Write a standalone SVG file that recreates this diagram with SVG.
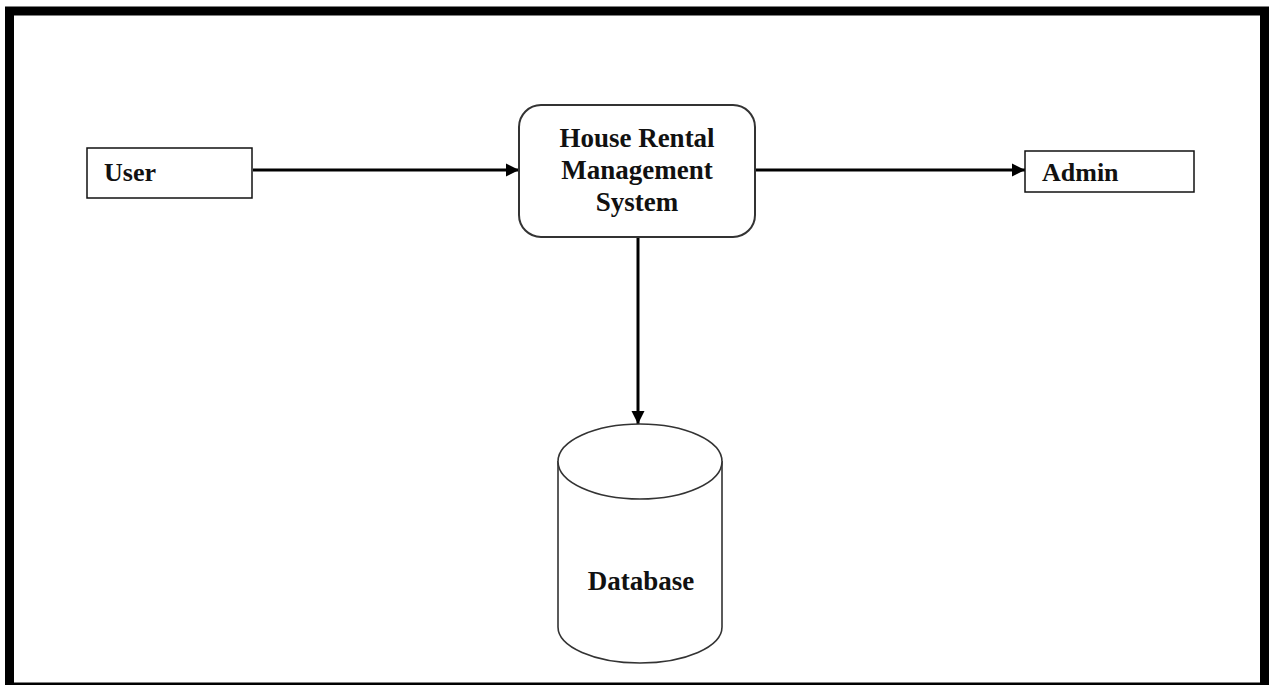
<svg xmlns="http://www.w3.org/2000/svg" width="1269" height="685" viewBox="0 0 1269 685">
<defs>
<style>
.t{font-family:"Liberation Serif","Times New Roman",serif;font-weight:bold;font-size:27px;fill:#111;}
.s{font-size:26px;}
.box{fill:#fff;stroke:#111;stroke-width:1.5;}
.conn{stroke:#000;stroke-width:3;fill:none;}
</style>
<marker id="ah" viewBox="0 0 10 10" refX="10" refY="5" markerWidth="4.5" markerHeight="4.5" orient="auto" markerUnits="strokeWidth">
<path d="M0,0 L10,5 L0,10 z" fill="#000"/>
</marker>
</defs>
<rect x="0" y="0" width="1269" height="685" fill="#fff"/>
<rect id="frame" x="9.5" y="11" width="1255" height="676" fill="none" stroke="#000" stroke-width="9"/>
<g id="connectors">
<line class="conn" x1="253" y1="170" x2="519" y2="170" marker-end="url(#ah)"/>
<line class="conn" x1="755" y1="170" x2="1025" y2="170" marker-end="url(#ah)"/>
<line class="conn" x1="638" y1="238" x2="638" y2="424" marker-end="url(#ah)"/>
</g>
<g id="user">
<rect class="box" x="87" y="148" width="165" height="50"/>
<text class="t s" x="104" y="181">User</text>
</g>
<g id="system">
<rect x="519" y="105" width="236" height="132" rx="22" ry="22" fill="#fff" stroke="#333" stroke-width="2"/>
<text class="t" x="637" y="147" text-anchor="middle">House Rental</text>
<text class="t" x="637" y="179" text-anchor="middle">Management</text>
<text class="t" x="637" y="211" text-anchor="middle">System</text>
</g>
<g id="admin">
<rect class="box" x="1025" y="151" width="169" height="41"/>
<text class="t s" x="1042" y="181">Admin</text>
</g>
<g id="database">
<path d="M558,461 L558,627 A82,36 0 0 0 722,627 L722,461" fill="#fff" stroke="#333" stroke-width="1.6"/>
<ellipse cx="640" cy="461.5" rx="82" ry="37.5" fill="#fff" stroke="#333" stroke-width="1.6"/>
<text class="t" x="641" y="590" text-anchor="middle">Database</text>
</g>
</svg>
